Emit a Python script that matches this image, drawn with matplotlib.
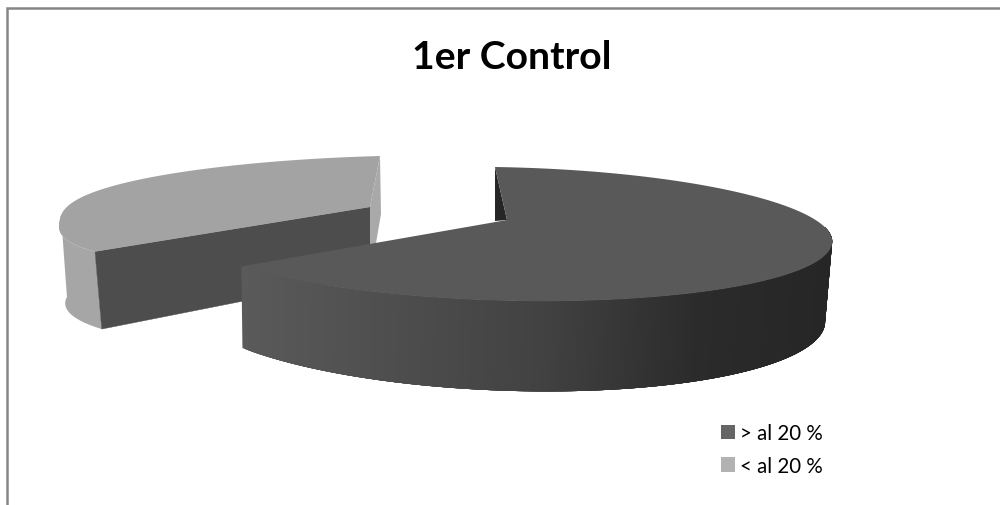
import numpy as np
import matplotlib
matplotlib.use("Agg")
import matplotlib.pyplot as plt
from matplotlib.patches import Polygon, Patch

title = "1er Control"
labels = ["> al 20 %", "< al 20 %"]
values = [65.8, 34.2]

plt.rcParams["font.family"] = ["Lato", "DejaVu Sans"]

W, H = 1000, 506
fig = plt.figure(figsize=(W / 100, H / 100), dpi=100)
ax = fig.add_axes([0, 0, 1, 1])
ax.set_xlim(0, W)
ax.set_ylim(H, 0)
ax.axis("off")

# chart frame: only top and left are visible
ax.plot([1000, 7, 7], [9, 9, 506], color="#868686", lw=1.8, solid_joinstyle="miter")


def rim(theta, cx, cy, rx, ry, sx, ty, p=1.0):
    # theta in degrees, clockwise from 12 o'clock, skewed ellipse to fake the perspective
    t = np.radians(theta)
    x = cx + rx * np.sin(t) + sx * np.cos(t)
    y = cy - ry * np.sign(np.cos(t)) * np.abs(np.cos(t)) ** p + ty * np.sin(t)
    return np.column_stack([x, y])


split = 360 * values[0] / sum(values)

big_top = (507, 235, 325, 67, -12, 5)
big_bot = (505, 312, 320, 80, -10, 8)
small_top = (356, 212, 296, 55, 24, -8, 0.8)
small_bot = (360, 290, 294, 58, 22, -10)

big_apex = (507, 221)
small_apex = (370, 208)

# light slice, drawn first because it sits behind
th = np.linspace(split, 360, 120)
th_side = np.linspace(split, 272, 30)
side = np.vstack([rim(th_side, *small_top), rim(th_side, *small_bot)[::-1]])
ax.add_patch(Polygon(side, fc="#a6a6a6", ec="none", zorder=2))

corner_t = rim(split, *small_top)[0]
corner_b = rim(split, *small_bot)[0]
wall = [corner_t, small_apex, (370, 277), corner_b]
ax.add_patch(Polygon(wall, fc="#4d4d4d", ec="#4d4d4d", lw=0.3, zorder=3))

end_t = rim(360, *small_top)[0]
sliver = [end_t, (381, 215), (375, 250), (370, 250), small_apex]
ax.add_patch(Polygon(sliver, fc="#a9a9a9", ec="none", zorder=3))

top = np.vstack([rim(th, *small_top), [small_apex]])
ax.add_patch(Polygon(top, fc="#a3a3a3", ec="none", zorder=4))

# dark slice: inner wall, shaded side, top face
th = np.linspace(0, split, 240)
start_t = rim(0, *big_top)[0]
inner = [start_t, big_apex, (495, 222)]
ax.add_patch(Polygon(inner, fc="#262626", ec="none", zorder=5))

# strips overlap the next one so no seams show between them
th_side = np.linspace(split, 80, 240)
rim_t = rim(th_side, *big_top)
rim_b = rim(th_side, *big_bot)
for i in range(len(th_side) - 1):
    j = min(i + 6, len(th_side) - 1)
    strip = np.vstack([rim_t[i:j + 1], rim_b[i:j + 1][::-1]])
    g = np.interp(rim_t[i, 0], [240, 540, 700, 830], [0x5a, 0x42, 0x2b, 0x26]) / 255
    ax.add_patch(Polygon(strip, fc=(g, g, g), ec="none", zorder=6))

top = np.vstack([rim(th, *big_top), [big_apex]])
ax.add_patch(Polygon(top, fc="#595959", ec="none", zorder=7))

ax.text(512, 57, title, fontsize=28.2, fontweight="bold", color="black", ha="center", va="center")

handles = [Patch(fc="#666666", ec="none"), Patch(fc="#b2b2b2", ec="none")]
ax.legend(handles, labels, loc="upper left", bbox_to_anchor=(721 / W, 1 - 424 / H), frameon=False,
          fontsize=14.8, handlelength=0.68, handleheight=0.68, handletextpad=0.22,
          labelspacing=0.62, borderpad=0, borderaxespad=0, labelcolor="black")

fig.savefig("out.png", dpi=100)
